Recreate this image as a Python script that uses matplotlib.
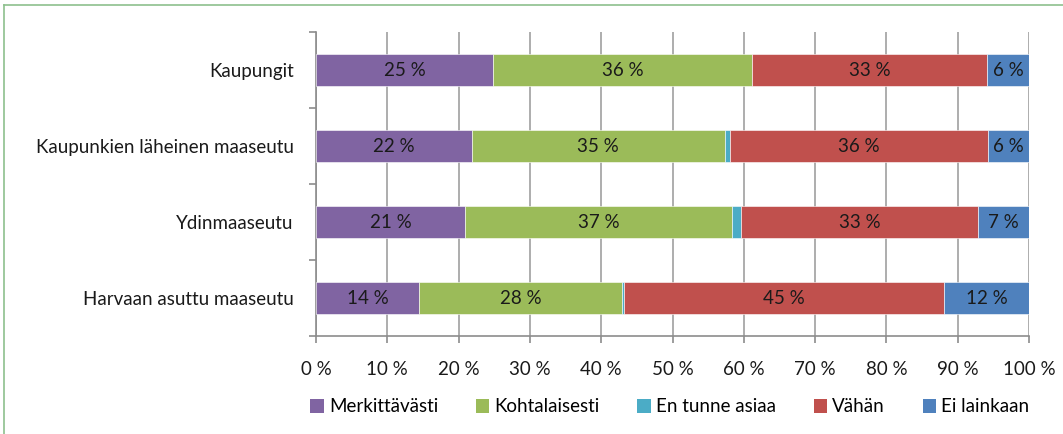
import matplotlib
matplotlib.use("Agg")
import matplotlib.pyplot as plt
from matplotlib.patches import Patch
from matplotlib.lines import Line2D
import numpy as np

categories = ["Kaupungit", "Kaupunkien läheinen maaseutu", "Ydinmaaseutu", "Harvaan asuttu maaseutu"]
series_names = ["Merkittävästi", "Kohtalaisesti", "En tunne asiaa", "Vähän", "Ei lainkaan"]
merkittavasti = [24.8, 21.9, 20.9, 14.5]
kohtalaisesti = [36.4, 35.4, 37.4, 28.4]
en_tunne = [0.0, 0.8, 1.3, 0.3]
vahan = [32.9, 36.2, 33.3, 44.9]
ei_lainkaan = [5.9, 5.7, 7.1, 11.9]
show_label = [True, True, False, True, True]
xtick_values = [0, 10, 20, 30, 40, 50, 60, 70, 80, 90, 100]
xtick_labels = [f"{v} %" for v in xtick_values]

colors = ["#8064A2", "#9BBB59", "#4BACC6", "#C0504D", "#4F81BD"]
series = [merkittavasti, kohtalaisesti, en_tunne, vahan, ei_lainkaan]
FS = 13.5

plt.rcParams['font.family'] = ['Lato', 'DejaVu Sans']
fig = plt.figure(figsize=(10.63, 4.34), dpi=100)
ax = fig.add_axes([316/1063, 98/434, 713/1063, 304/434])

y = np.arange(len(categories))[::-1]
left = np.zeros(len(categories))
for vals, col, name, show in zip(series, colors, series_names, show_label):
    vals = np.array(vals)
    ax.barh(y, vals, left=left, height=0.41, color=col, edgecolor="white", linewidth=0.4, zorder=3)
    if show:
        for yi, l, v in zip(y, left, vals):
            if v > 0:
                ax.text(l + v/2, yi, f"{v:.0f} %", ha="center", va="center", fontsize=FS, color="#1a1a1a", zorder=4)
    left += vals

ax.set_xlim(0, 100)
ax.set_ylim(-0.5, len(categories) - 0.5)
ax.set_xticks(xtick_values)
ax.set_xticklabels(xtick_labels, fontsize=FS, color="#1a1a1a")
ax.xaxis.grid(True, color="#A0A0A0", linewidth=1.2, zorder=0)
ax.set_yticks(y)
ax.set_yticklabels(categories, fontsize=FS, color="#1a1a1a")
ax.set_yticks(np.arange(-0.5, len(categories), 1.0), minor=True)
ax.tick_params(axis="y", which="major", length=0, pad=16)
ax.tick_params(axis="y", which="minor", length=5, color="#8c8c8c", width=1.2)
ax.tick_params(axis="x", length=5, color="#8c8c8c", width=1.2, pad=13)
for s in ["top", "right"]:
    ax.spines[s].set_visible(False)
for s in ["left", "bottom"]:
    ax.spines[s].set_color("#8c8c8c")
    ax.spines[s].set_linewidth(1.2)

handles = [Patch(facecolor=c, edgecolor="none") for c in colors]
fig.legend(handles, series_names, loc="center", bbox_to_anchor=(670/1063, 1 - 407/434), ncol=5,
           frameon=False, fontsize=FS, handlelength=0.7, handleheight=0.7, handletextpad=0.3,
           columnspacing=2.0)

fig.add_artist(Line2D([4/1063, 4/1063], [0, 1 - 5/434], transform=fig.transFigure, color="#8DC08D", linewidth=1.2))
fig.add_artist(Line2D([4/1063, 1], [1 - 5/434, 1 - 5/434], transform=fig.transFigure, color="#8DC08D", linewidth=1.2))

fig.savefig("out.png", dpi=100)
